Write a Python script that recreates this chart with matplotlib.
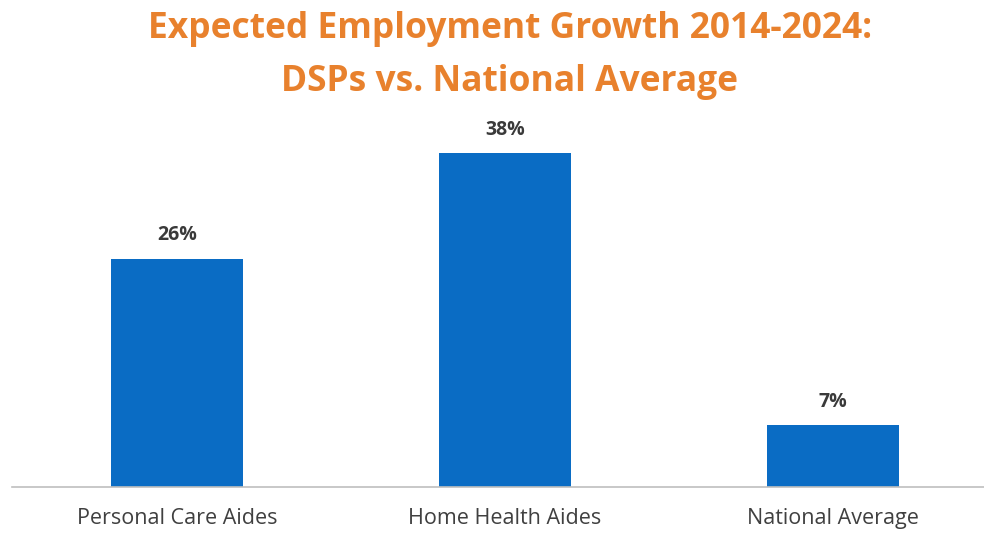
import matplotlib
matplotlib.use("Agg")
import matplotlib.pyplot as plt

categories = ["Personal Care Aides", "Home Health Aides", "National Average"]
growth_pct = [26, 38, 7]
value_labels = ["26%", "38%", "7%"]
title_lines = ["Expected Employment Growth 2014-2024:", "DSPs vs. National Average"]

plt.rcParams["font.family"] = ["Open Sans", "DejaVu Sans"]

fig = plt.figure(figsize=(9.84, 5.34), dpi=100)
ax = fig.add_axes([12 / 984, 47 / 534, 1 - 12 / 984, 377 / 534])

x = list(range(len(categories)))
bars = ax.bar(x, growth_pct, width=0.40, color="#0a6cc4", zorder=2)

for b, lab in zip(bars, value_labels):
    ax.annotate(lab, (b.get_x() + b.get_width() / 2, b.get_height()),
                xytext=(0, 13), textcoords="offset points",
                ha="center", va="baseline", fontsize=14, fontweight="bold",
                color="#3a3a3a")

ax.set_xlim(-0.503, 2.46)
ax.set_ylim(0, 42.9)
ax.set_xticks(x)
ax.set_xticklabels(categories, fontsize=15.5, color="#404040")
ax.tick_params(axis="x", length=0, pad=15)
ax.set_yticks([])
for side in ("top", "right", "left"):
    ax.spines[side].set_visible(False)
ax.spines["bottom"].set_color("#bfbfbf")
ax.spines["bottom"].set_linewidth(1.2)

fig.text(0.518, 1 - 38 / 534, title_lines[0], ha="center", va="baseline",
         fontsize=25.5, fontweight="bold", color="#e8812d")
fig.text(0.518, 1 - 91 / 534, title_lines[1], ha="center", va="baseline",
         fontsize=25.5, fontweight="bold", color="#e8812d")

fig.savefig("out.png", dpi=100, facecolor="white")
